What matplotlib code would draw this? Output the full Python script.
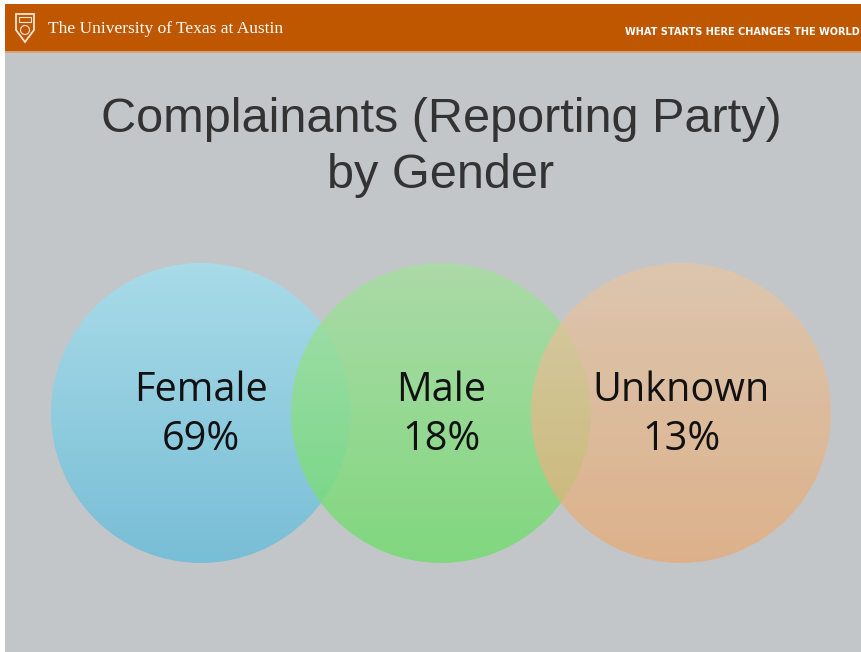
import numpy as np
import matplotlib
matplotlib.use("Agg")
import matplotlib.pyplot as plt
from matplotlib.patches import Circle, Rectangle, Polygon

# ---- data ----
categories = ["Female", "Male", "Unknown"]
percentages = [69, 18, 13]
title_lines = ["Complainants (Reporting Party)", "by Gender"]
header_left = "The University of Texas at Austin"
header_right = "WHAT STARTS HERE CHANGES THE WORLD"

# ---- style ----
W, H = 861, 652
centers_x = [201, 441, 681]
center_y = 413
radius = 150
top_colors = ["#a9dbe8", "#a6e0a0", "#e7c6a5"]
bot_colors = ["#78bed6", "#70dc6c", "#e8aa72"]
alphas = [1.0, 0.8, 0.72]

fig = plt.figure(figsize=(W / 100, H / 100), dpi=100)
fig.patch.set_facecolor("white")
ax = fig.add_axes([0, 0, 1, 1])
ax.set_xlim(0, W)
ax.set_ylim(H, 0)
ax.axis("off")

# slide background
ax.add_patch(Rectangle((5, 53), W - 5, H - 53, facecolor="#c3c6c9", edgecolor="none", zorder=0))
# header bar
ax.add_patch(Rectangle((5, 4), W - 5, 48, facecolor="#bf5700", edgecolor="none", zorder=1))
ax.add_patch(Rectangle((5, 51), W - 5, 2, facecolor="#d9a27a", edgecolor="none", zorder=1))

# shield logo
shield = Polygon([(16, 14), (34, 14), (34, 30), (25, 42), (16, 30)], closed=True,
                 facecolor="none", edgecolor="#f3e3d3", lw=1.3, zorder=2)
ax.add_patch(shield)
ax.add_patch(Rectangle((19, 17), 12, 5, facecolor="none", edgecolor="#f3e3d3", lw=0.8, zorder=2))
ax.add_patch(Circle((25, 30), 4.5, facecolor="none", edgecolor="#f3e3d3", lw=0.8, zorder=2))

ax.text(48, 29, header_left, color="white", fontsize=12.5, family="Liberation Serif",
        va="center", ha="left", zorder=2)
ax.text(625, 32, header_right, color="white", fontsize=7.0, family="DejaVu Sans",
        weight="bold", va="center", ha="left", zorder=2)

# title
ax.text(441, 120, title_lines[0], color="#333333", fontsize=35, family="Liberation Sans",
        ha="center", va="center", zorder=2)
ax.text(441, 176, title_lines[1], color="#333333", fontsize=35, family="Liberation Sans",
        ha="center", va="center", zorder=2)

# circles with vertical gradient
def hex2rgb(h):
    h = h.lstrip("#")
    return np.array([int(h[i:i + 2], 16) / 255 for i in (0, 2, 4)])

t = np.linspace(0, 1, 256)[:, None]
for i, (cat, pct) in enumerate(zip(categories, percentages)):
    cx = centers_x[i]
    c0, c1 = hex2rgb(top_colors[i]), hex2rgb(bot_colors[i])
    grad = c0[None, :] * (1 - t) + c1[None, :] * t
    img = np.repeat(grad[:, None, :], 4, axis=1)
    im = ax.imshow(img, extent=[cx - radius, cx + radius, center_y + radius, center_y - radius],
                   interpolation="bilinear", alpha=alphas[i], zorder=3 + i, aspect="auto")
    clip = Circle((cx, center_y), radius, transform=ax.transData, facecolor="none", edgecolor="none")
    ax.add_patch(clip)
    im.set_clip_path(clip)

for i, (cat, pct) in enumerate(zip(categories, percentages)):
    cx = centers_x[i]
    ax.text(cx, 391, cat, fontsize=28.5, family="Open Sans", color="#111111",
            ha="center", va="center", zorder=10)
    ax.text(cx, 440, f"{pct}%", fontsize=28.5, family="Open Sans", color="#111111",
            ha="center", va="center", zorder=10)

ax.set_xlim(0, W)
ax.set_ylim(H, 0)
fig.savefig("out.png", dpi=100, facecolor=fig.get_facecolor())
